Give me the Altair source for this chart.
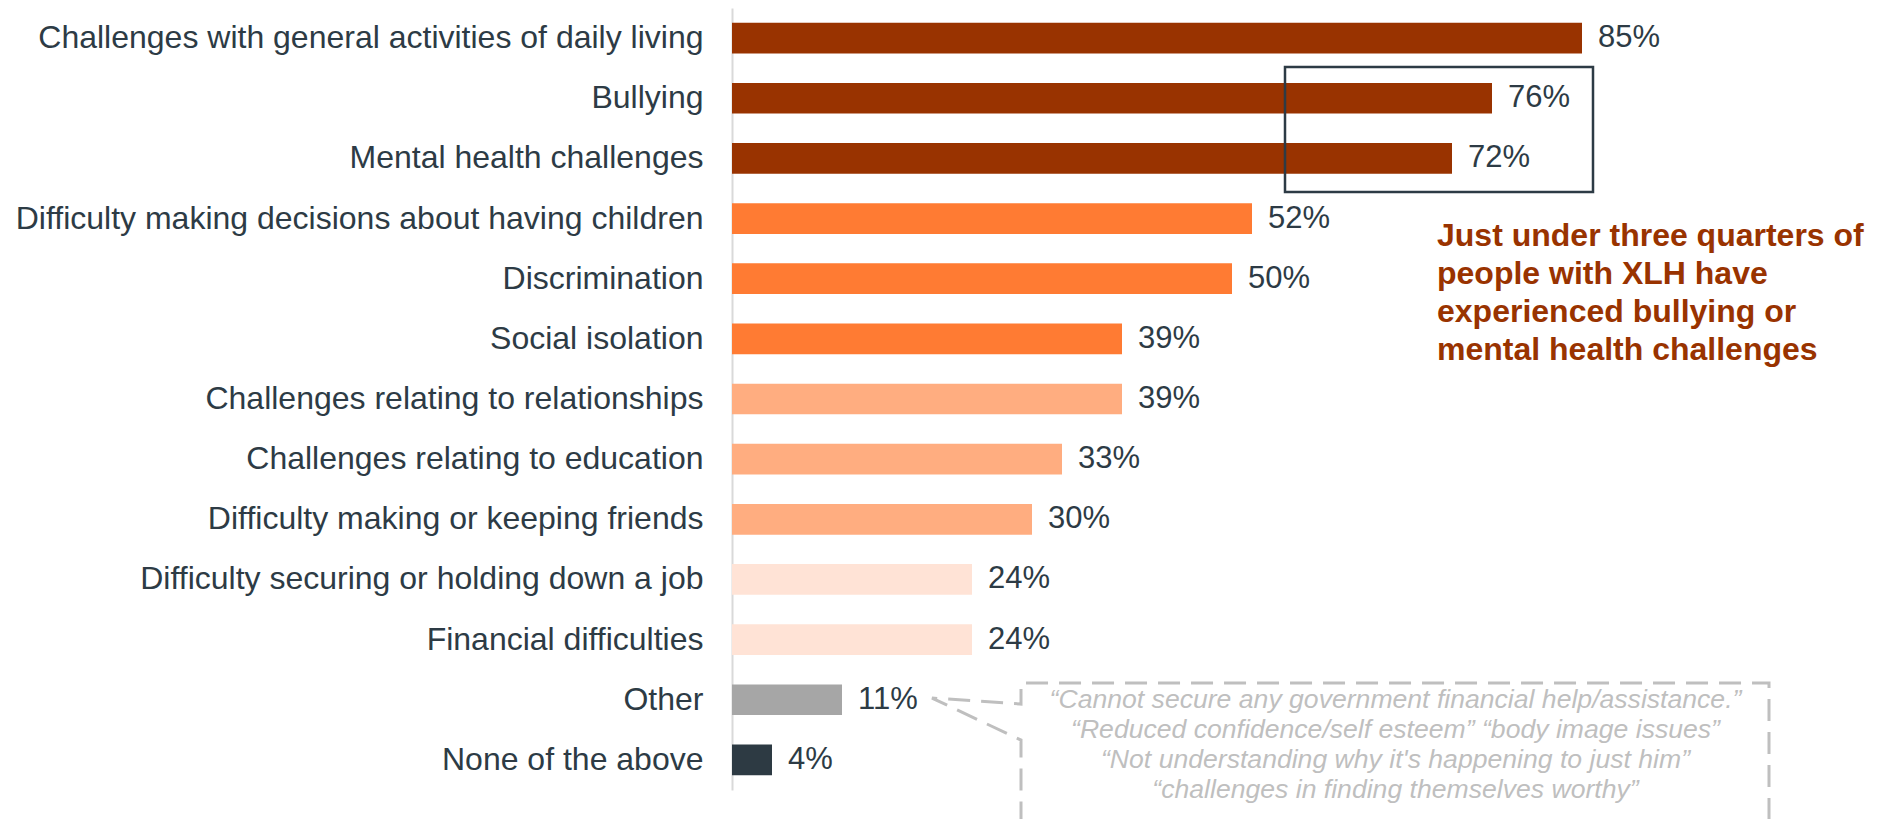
import altair as alt
import pandas as pd

# ---- data ----
categories = [
    "Challenges with general activities of daily living",
    "Bullying",
    "Mental health challenges",
    "Difficulty making decisions about having children",
    "Discrimination",
    "Social isolation",
    "Challenges relating to relationships",
    "Challenges relating to education",
    "Difficulty making or keeping friends",
    "Difficulty securing or holding down a job",
    "Financial difficulties",
    "Other",
    "None of the above",
]
values = [85, 76, 72, 52, 50, 39, 39, 33, 30, 24, 24, 11, 4]
tiers = ["t1", "t1", "t1", "t2", "t2", "t2", "t3", "t3", "t3", "t4", "t4", "other", "none"]

tier_domain = ["t1", "t2", "t3", "t4", "other", "none"]
tier_colors = ["#993300", "#FF7B33", "#FFAD80", "#FFE3D6", "#A6A6A6", "#2D3A43"]

callout_text = "Just under three quarters of\npeople with XLH have\nexperienced bullying or\nmental health challenges"
quote_text = ("\u201cCannot secure any government financial help/assistance.\u201d\n"
              "\u201cReduced confidence/self esteem\u201d \u201cbody image issues\u201d\n"
              "\u201cNot understanding why it's happening to just him\u201d\n"
              "\u201cchallenges in finding themselves worthy\u201d")

FONT = "Liberation Sans"
TEXT_COLOR = "#2D3B45"

df = pd.DataFrame({
    "category": categories,
    "value": values,
    "tier": tiers,
    "label": [f"{v}%" for v in values],
})

x_scale = alt.Scale(domain=[0, 100], nice=False)
y_band = alt.Scale(paddingInner=0.49, paddingOuter=0.245)

bars = alt.Chart(df).mark_bar().encode(
    x=alt.X("value:Q", scale=x_scale, axis=None),
    y=alt.Y("category:N", sort=categories, scale=y_band,
            axis=alt.Axis(title=None, ticks=False, labelFontSize=32, labelFont=FONT,
                          labelColor=TEXT_COLOR, labelPadding=29, labelLimit=900,
                          domainColor="#D9D9D9", domainWidth=2, grid=False)),
    color=alt.Color("tier:N", scale=alt.Scale(domain=tier_domain, range=tier_colors), legend=None),
)

labels = alt.Chart(df).mark_text(
    align="left", baseline="middle", dx=16, fontSize=31, font=FONT, color=TEXT_COLOR
).encode(
    x=alt.X("value:Q", scale=x_scale),
    y=alt.Y("category:N", sort=categories, scale=y_band),
    text="label:N",
)

# annotation layers use a row-unit scale (0 = top of the bar area, 13 = bottom)
row_scale = alt.Scale(domain=[0, 13], reverse=True, nice=False, zero=False)

box_df = pd.DataFrame({"x": [55.3], "x2": [86.1], "y": [0.981], "y2": [3.059]})
box = alt.Chart(box_df).mark_rect(fill=None, stroke=TEXT_COLOR, strokeWidth=2.5).encode(
    x=alt.X("x:Q", scale=x_scale),
    x2="x2:Q",
    y=alt.Y("y:Q", scale=row_scale, axis=None),
    y2="y2:Q",
)

callout_df = pd.DataFrame({"x": [70.5], "y": [3.95], "text": [callout_text]})
callout = alt.Chart(callout_df).mark_text(
    align="left", baseline="alphabetic", fontSize=32, fontWeight="bold", font=FONT,
    color="#993300", lineBreak="\n", lineHeight=38
).encode(
    x=alt.X("x:Q", scale=x_scale),
    y=alt.Y("y:Q", scale=row_scale, axis=None),
    text="text:N",
)

path_df = pd.DataFrame({
    "x": [103.7, 103.7, 28.9, 28.9, 20.0, 28.9, 28.9],
    "y": [13.5, 11.222, 11.222, 11.571, 11.471, 12.170, 13.5],
    "o": list(range(7)),
})
qbox = alt.Chart(path_df).mark_line(
    color="#BFBFBF", strokeWidth=3, strokeDash=[22, 11]
).encode(
    x=alt.X("x:Q", scale=x_scale),
    y=alt.Y("y:Q", scale=row_scale, axis=None),
    order="o:Q",
)

quote_df = pd.DataFrame({"x": [66.35], "y": [11.63], "text": [quote_text]})
quote = alt.Chart(quote_df).mark_text(
    align="center", baseline="alphabetic", fontSize=26.6, fontStyle="italic", font=FONT,
    color="#BFBFBF", lineBreak="\n", lineHeight=30
).encode(
    x=alt.X("x:Q", scale=x_scale),
    y=alt.Y("y:Q", scale=row_scale, axis=None),
    text="text:N",
)

chart = alt.layer(
    alt.layer(bars, labels), box, callout, qbox, quote
).resolve_scale(y="independent").properties(
    width=1000, height=782,
    autosize=alt.AutoSizeParams(type="none"),
    padding={"left": 724, "top": 0, "right": 142, "bottom": 29},
).configure_view(stroke=None)

chart.save("out.html", embed_options={"renderer": "svg", "actions": False})
